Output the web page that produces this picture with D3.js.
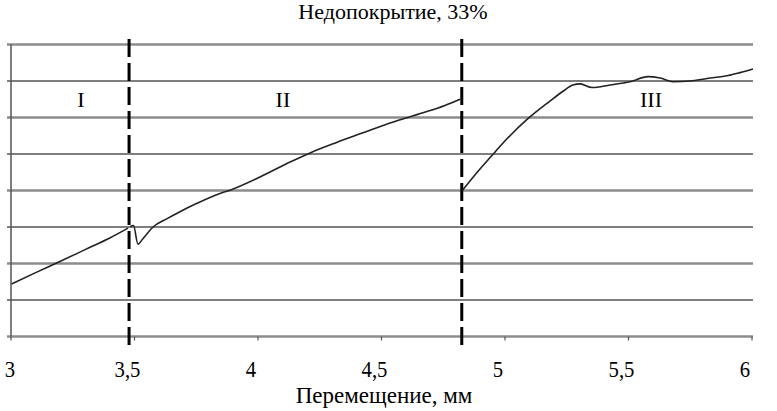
<!DOCTYPE html>
<html><head><meta charset="utf-8">
<script src="https://cdn.jsdelivr.net/npm/d3@7"></script>
<style>body{margin:0;background:#fff}svg{display:block}</style>
</head><body>
<script>
const title = "Недопокрытие, 33%";
const xLabel = "Перемещение, мм";
const xTicks = [3, 3.5, 4, 4.5, 5, 5.5, 6];
const xTickLabels = ["3", "3,5", "4", "4,5", "5", "5,5", "6"];
const yGrid = [0, 1, 2, 3, 4, 5, 6, 7, 8];
const boundaries = [3.478, 4.825];
const zoneLabels = ["I", "II", "III"];
const zoneX = [3.283, 4.101, 5.591];
const zoneY = [6.29, 6.29, 6.29];
// segment I
const seg1 = [[3.003,1.44],[3.1,1.75],[3.2,2.06],[3.3,2.38],[3.4,2.70],[3.474,2.97]];
// segment II
const seg2 = [[3.482,3.01],[3.496,3.04],[3.514,2.53],[3.534,2.68],[3.575,3.0],[3.632,3.23],[3.684,3.42],[3.753,3.65],[3.838,3.90],[3.887,4.01],[4.008,4.37],[4.13,4.78],[4.211,5.03],[4.316,5.31],[4.425,5.58],[4.534,5.85],[4.668,6.13],[4.757,6.33],[4.818,6.50]];
// segment III
const seg3 = [[4.826,3.99],[4.885,4.48],[4.946,4.95],[4.992,5.30],[5.088,5.94],[5.182,6.45],[5.235,6.72],[5.275,6.89],[5.304,6.92],[5.352,6.82],[5.425,6.89],[5.506,6.98],[5.579,7.12],[5.628,7.08],[5.68,6.98],[5.749,7.0],[5.818,7.07],[5.903,7.15],[5.951,7.23],[6.004,7.33]];

const W = 777, H = 411;
const svg = d3.select("body").append("svg").attr("width", W).attr("height", H);
const x = d3.scaleLinear().domain([3, 6]).range([11, 752]);
const y = d3.scaleLinear().domain([0, 8]).range([336.5, 44.5]);
const font = "'Liberation Serif','Times New Roman',serif";

// grid lines
svg.append("g").selectAll("line").data(yGrid).join("line")
  .attr("x1", 7).attr("x2", 753)
  .attr("y1", d => y(d)).attr("y2", d => y(d))
  .attr("stroke", d => d % 2 === 0 ? "#8c8c8c" : "#000")
  .attr("stroke-width", d => d % 2 === 0 ? 2.6 : 1.1);

// y axis line
svg.append("line").attr("x1", 11).attr("x2", 11).attr("y1", y(8)).attr("y2", y(0))
  .attr("stroke", "#555").attr("stroke-width", 1.5);

// x axis ticks
svg.append("g").selectAll("line").data(xTicks).join("line")
  .attr("x1", d => x(d)).attr("x2", d => x(d))
  .attr("y1", y(0)).attr("y2", y(0) + 4)
  .attr("stroke", "#555").attr("stroke-width", 1.2);

// x tick labels
svg.append("g").selectAll("text").data(xTicks).join("text")
  .attr("transform", d => `translate(${Math.max(x(d) - 7, 10)},377) scale(0.9,1)`)
  .attr("text-anchor", "middle")
  .attr("font-family", font).attr("font-size", 23)
  .text((d, i) => xTickLabels[i]);

// boundary dashed lines
svg.append("g").selectAll("line").data(boundaries).join("line")
  .attr("x1", d => x(d)).attr("x2", d => x(d))
  .attr("y1", 39).attr("y2", 348)
  .attr("stroke", "#000").attr("stroke-width", 3)
  .attr("stroke-dasharray", "18,6");

// curve
const line = d3.line().x(d => x(d[0])).y(d => y(d[1])).curve(d3.curveMonotoneX);
[seg1, seg2, seg3].forEach(s => {
  svg.append("path").attr("d", line(s)).attr("fill", "none")
    .attr("stroke", "#222").attr("stroke-width", 1.6);
});

// zone labels
svg.append("g").selectAll("text").data(zoneLabels).join("text")
  .attr("x", (d, i) => x(zoneX[i])).attr("y", (d, i) => y(zoneY[i]))
  .attr("text-anchor", "middle")
  .attr("font-family", font).attr("font-size", 22)
  .text(d => d);

// title
svg.append("text").attr("x", 393).attr("y", 19).attr("text-anchor", "middle")
  .attr("font-family", font).attr("font-size", 22).text(title);
// x label
svg.append("text").attr("x", 384).attr("y", 403).attr("text-anchor", "middle")
  .attr("font-family", font).attr("font-size", 23).text(xLabel);
</script>
</body></html>
